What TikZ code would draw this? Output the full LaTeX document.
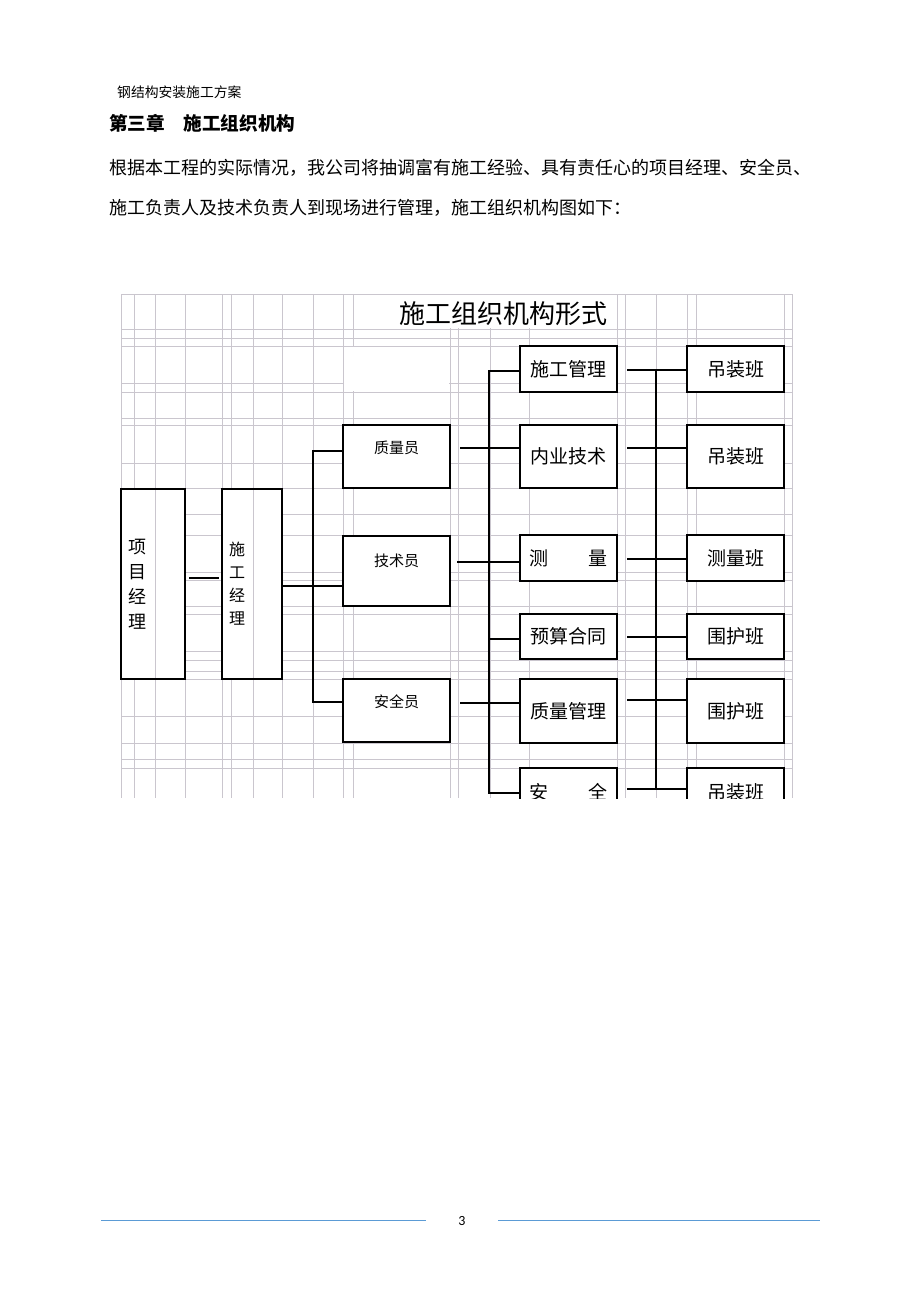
\documentclass[tikz,border=0pt]{standalone}
\usepackage{fontspec}
\newfontfamily\cjk{Noto Sans CJK SC}
\newfontfamily\numfont{Carlito}
\definecolor{gridc}{RGB}{202,198,206}
\definecolor{footblue}{RGB}{91,155,213}
\begin{document}
\begin{tikzpicture}[x=1pt,y=-1pt,
  gridline/.style={draw=gridc,line width=1pt},
  box/.style={draw,line width=1.2pt,fill=white,inner sep=0pt,font=\cjk\fontsize{19}{19}\selectfont},
  lbox/.style={box,minimum width=107pt},
  mbox/.style={box,minimum width=97pt},
  conn/.style={line width=1.1pt},
  small/.style={font=\cjk\fontsize{15}{15}\selectfont},
  para/.style={anchor=west,inner sep=0pt,font=\cjk\fontsize{18}{18}\selectfont}]
\useasboundingbox (0,0) rectangle (920,1302);
\fill[white] (0,0) rectangle (920,1302);

% page texts
\node[anchor=west,inner sep=0pt,font=\cjk\fontsize{13.8}{14}\selectfont] (hdr) at (117,92) {钢结构安装施工方案};
\node[anchor=west,inner sep=0pt,font=\cjk\bfseries\fontsize{18.6}{19}\selectfont] (chap) at (109,123) {第三章\hspace{1em}施工组织机构};
\node[para] (p1) at (109,168) {根据本工程的实际情况，我公司将抽调富有施工经验、具有责任心的项目经理、安全员、};
\node[para] (p2) at (109,208) {施工负责人及技术负责人到现场进行管理，施工组织机构图如下：};

\begin{scope}
\clip (110,285) rectangle (800,798);
% grid
\foreach \x in {121,134,155,185,222,231,253,282,313,343,353,450,458,490,529,617,625,656,687,696,784,792}
  \draw[gridline] (\x,294) -- (\x,798);
\foreach \y in {294,329,338,346,383,392,418,425,463,488,514,535,572,580,606,614,651,660,671,679,716,743,759,768}
  \draw[gridline] (121,\y) -- (792,\y);
\fill[white] (353.6,294.6) rectangle (616.4,328.4);
\fill[white] (343.6,346.6) rectangle (449.4,391.4);
\node[font=\cjk\fontsize{26}{26}\selectfont,inner sep=0pt] (title) at (503.5,314) {施工组织机构形式};

% left tall boxes
\node[box,minimum width=64pt,minimum height=190pt,text width=50pt,inner xsep=7pt,align=left,
      font=\cjk\fontsize{18}{25}\selectfont] (pm) at (153,584) {项\\目\\经\\理};
\node[box,minimum width=60pt,minimum height=190pt,text width=46pt,inner xsep=7pt,align=left,
      font=\cjk\fontsize{16}{23}\selectfont] (sg) at (252,584) {施\\工\\经\\理};
\draw[gridline] (155,489.7) -- (155,678.3);
\draw[gridline] (253,489.7) -- (253,678.3);
\node[box,fill=none,minimum width=64pt,minimum height=190pt] (pmf) at (153,584) {};
\node[box,fill=none,minimum width=60pt,minimum height=190pt] (sgf) at (252,584) {};

% second column boxes
\node[lbox,minimum height=63pt,label={[small,yshift=8.5pt]center:质量员}] (zl) at (396.5,456.5) {};
\node[lbox,minimum height=70pt,label={[small,yshift=10pt]center:技术员}] (tech) at (396.5,571) {};
\node[lbox,minimum height=63pt,label={[small,yshift=8.5pt]center:安全员}] (aq) at (396.5,710.5) {};

% middle column boxes
\node[mbox,minimum height=46pt] (sgl) at (568.5,369) {施工管理};
\node[mbox,minimum height=63pt] (ny) at (568.5,456.5) {\raisebox{-3pt}{内业技术}};
\node[mbox,minimum height=46pt] (cl) at (568.5,558) {\raisebox{-4pt}{\makebox[78pt]{测\hfill 量}}};
\node[mbox,minimum height=45pt] (ys) at (568.5,636.5) {预算合同};
\node[mbox,minimum height=64pt] (zg) at (568.5,711) {\raisebox{-2pt}{质量管理}};
\node[mbox,minimum height=64pt,label={[font=\cjk\fontsize{19}{19}\selectfont,yshift=8pt]center:\makebox[78pt]{安\hfill 全}}] (aq2) at (568.5,800) {};

% right column boxes
\node[mbox,minimum height=46pt] (r1) at (735.5,369) {吊装班};
\node[mbox,minimum height=63pt] (r2) at (735.5,456.5) {\raisebox{-3pt}{吊装班}};
\node[mbox,minimum height=46pt] (r3) at (735.5,558) {\raisebox{-4pt}{测量班}};
\node[mbox,minimum height=45pt] (r4) at (735.5,636.5) {围护班};
\node[mbox,minimum height=64pt] (r5) at (735.5,711) {\raisebox{-2pt}{围护班}};
\node[mbox,minimum height=64pt,label={[font=\cjk\fontsize{19}{19}\selectfont,yshift=8pt]center:吊装班}] (r6) at (735.5,800) {};

% connectors
\coordinate (a1) at (189,578);
\coordinate (a2) at (219,578);
\draw[conn] (a1) -- (a2);
\coordinate (s1t) at (313,451);
\coordinate (s1b) at (313,702);
\coordinate (s1m) at (313,586);
\draw[conn] (s1t -| zl.west) -- (s1t) -- (s1b) -- (s1b -| aq.west);
\draw[conn] (s1m -| sg.east) -- (s1m -| tech.west);

\coordinate (m1) at (460,448);
\coordinate (m2) at (457,562);
\coordinate (m3) at (460,703);
\draw[conn] (m1) -- (m1 -| ny.west);
\draw[conn] (m2) -- (m2 -| cl.west);
\draw[conn] (m3) -- (m3 -| zg.west);

\coordinate (s2t) at (489,371);
\coordinate (s2y) at (489,639);
\coordinate (s2b) at (489,793);
\draw[conn] (s2t -| sgl.west) -- (s2t) -- (s2b) -- (s2b -| aq2.west);
\draw[conn] (s2y) -- (s2y -| ys.west);

\coordinate (q1) at (627,370);
\coordinate (q2) at (627,448);
\coordinate (q3) at (627,559);
\coordinate (q4) at (627,637);
\coordinate (q5) at (627,700);
\coordinate (q6) at (627,789);
\draw[conn] (q1) -- (q1 -| r1.west);
\draw[conn] (q2) -- (q2 -| r2.west);
\draw[conn] (q3) -- (q3 -| r3.west);
\draw[conn] (q4) -- (q4 -| r4.west);
\draw[conn] (q5) -- (q5 -| r5.west);
\draw[conn] (q6) -- (q6 -| r6.west);
\coordinate (s3t) at (656,370);
\coordinate (s3b) at (656,789);
\draw[conn] (s3t) -- (s3b);
\end{scope}

% footer
\coordinate (f1) at (101,1220);
\coordinate (f2) at (426,1220);
\coordinate (f3) at (498,1220);
\coordinate (f4) at (820,1220);
\draw[footblue,line width=1pt] (f1) -- (f2);
\draw[footblue,line width=1pt] (f3) -- (f4);
\node[font=\numfont\fontsize{14}{14}\selectfont,inner sep=0pt] (pg) at (462,1221) {3};
\end{tikzpicture}
\end{document}
